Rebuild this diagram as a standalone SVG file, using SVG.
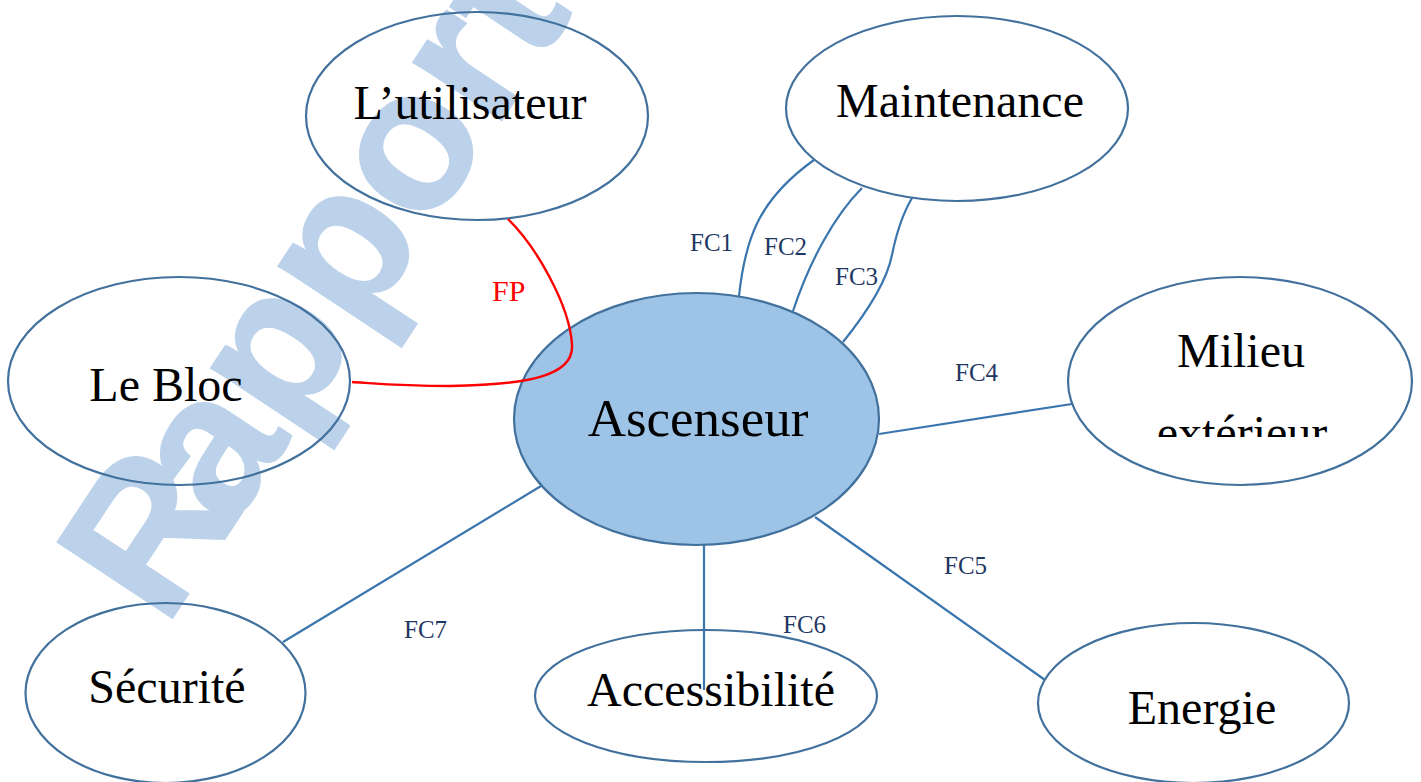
<svg xmlns="http://www.w3.org/2000/svg" width="1421" height="782" viewBox="0 0 1421 782">
<style>
.node{fill:none;stroke:#41719C;stroke-width:2.2}
.main{fill:#9DC3E6;stroke:#41719C;stroke-width:2.2}
.lbl{font-family:"Liberation Serif","Times New Roman",serif;font-size:48px;fill:#000}
.big{font-size:53px}
.conn{fill:none;stroke:#3A75AE;stroke-width:2.2}
.fp{fill:none;stroke:#FF0000;stroke-width:2.4}
.fc{font-family:"Liberation Serif","Times New Roman",serif;font-size:25px;fill:#1F3763}
.fpl{font-family:"Liberation Serif","Times New Roman",serif;font-size:30px;fill:#FF0000}
.wm{font-family:"Liberation Sans",Arial,sans-serif;font-weight:bold;font-size:200px;fill:#BCD2EA;stroke:#BCD2EA;stroke-width:2}
</style>
<defs>
<clipPath id="clipMilieu"><rect x="1070" y="280" width="340" height="157"/></clipPath>
</defs>
<rect width="1421" height="782" fill="#fff"/>
<text class="wm" x="165" y="629" transform="rotate(-56.5 165 629)">R<tspan dx="-26">apport</tspan></text>

<g id="ascenseur">
<ellipse class="main" cx="696.5" cy="419" rx="182.5" ry="126"/>
<text class="lbl big" x="698" y="436" text-anchor="middle">Ascenseur</text>
</g>
<g id="utilisateur">
<ellipse class="node" cx="477" cy="116" rx="171" ry="104"/>
<text class="lbl" x="470" y="119" text-anchor="middle">L’utilisateur</text>
</g>
<g id="bloc">
<ellipse class="node" cx="179" cy="381" rx="171" ry="104"/>
<text class="lbl" x="166" y="401" text-anchor="middle">Le Bloc</text>
</g>
<g id="maintenance">
<ellipse class="node" cx="957" cy="108.5" rx="171" ry="92.5"/>
<text class="lbl" x="960" y="117" text-anchor="middle">Maintenance</text>
</g>
<g id="milieu">
<ellipse class="node" cx="1240" cy="381" rx="172" ry="104"/>
<g clip-path="url(#clipMilieu)">
<text class="lbl" x="1241" y="367" text-anchor="middle">Milieu</text>
<text class="lbl" x="1242" y="449" text-anchor="middle">extérieur</text>
</g>
</g>
<g id="securite">
<ellipse class="node" cx="165.5" cy="693" rx="140" ry="90"/>
<text class="lbl" x="167" y="703" text-anchor="middle">Sécurité</text>
</g>
<g id="accessibilite">
<ellipse class="node" cx="706" cy="696" rx="171" ry="66"/>
<text class="lbl" x="711" y="706" text-anchor="middle">Accessibilité</text>
</g>
<g id="energie">
<ellipse class="node" cx="1193.5" cy="703" rx="155.5" ry="80"/>
<text class="lbl" x="1202" y="724" text-anchor="middle">Energie</text>
</g>

<g id="connectors">
<path class="fp" d="M508,219 C535,245 570,305 572,345 C574,375 530,385 450,386 C400,386 370,383 352,382"/>
<path class="conn" d="M739,296 C745,240 758,200 814,160"/>
<path class="conn" d="M793,311 C810,260 835,215 862,188"/>
<path class="conn" d="M843,342 Q885,290 892,255 T912,198"/>
<path class="conn" d="M879,434 L1072,404"/>
<path class="conn" d="M815,517 L1045,680"/>
<path class="conn" d="M704,545 L704,690"/>
<path class="conn" d="M541,486 L283,642"/>
</g>
<g id="labels">
<text class="fpl" x="492" y="301">FP</text>
<text class="fc" x="690" y="251">FC1</text>
<text class="fc" x="764" y="255">FC2</text>
<text class="fc" x="835" y="285">FC3</text>
<text class="fc" x="955" y="381">FC4</text>
<text class="fc" x="944" y="574">FC5</text>
<text class="fc" x="783" y="633">FC6</text>
<text class="fc" x="404" y="638">FC7</text>
</g>
</svg>
